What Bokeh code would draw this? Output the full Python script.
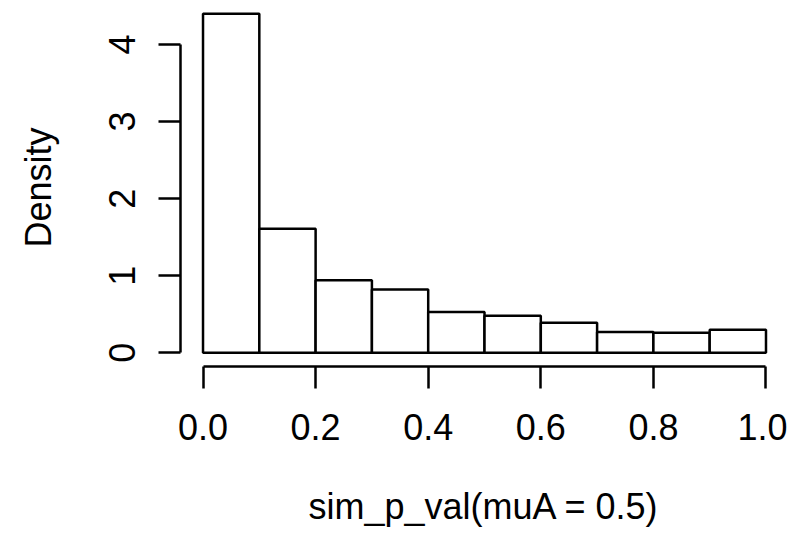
from bokeh.plotting import figure
from bokeh.models import Range1d, FixedTicker, PrintfTickFormatter
from bokeh.embed import file_html
from bokeh.resources import INLINE

breaks = [0.0, 0.1, 0.2, 0.3, 0.4, 0.5, 0.6, 0.7, 0.8, 0.9, 1.0]
density = [4.40, 1.61, 0.94, 0.82, 0.53, 0.48, 0.39, 0.27, 0.26, 0.30]
x_ticks = [0.0, 0.2, 0.4, 0.6, 0.8, 1.0]
y_ticks = [0, 1, 2, 3, 4]
x_label = "sim_p_val(muA = 0.5)"
y_label = "Density"

FONT = "Liberation Sans"

p = figure(width=787, height=535, output_backend="svg", toolbar_location=None,
           x_range=Range1d(-0.04, 1.0382), y_range=Range1d(-0.178, 4.467),
           min_border_left=180, min_border_right=0, min_border_top=8,
           min_border_bottom=169)
p.outline_line_color = None
p.xgrid.visible = False
p.ygrid.visible = False
p.background_fill_color = "white"
p.border_fill_color = "white"

p.quad(left=breaks[:-1], right=breaks[1:], bottom=0, top=density,
       fill_color="white", line_color="black", line_width=2.5)

for ax in (p.xaxis[0], p.yaxis[0]):
    ax.axis_line_width = 2.5
    ax.axis_line_color = "black"
    ax.major_tick_line_width = 2.5
    ax.major_tick_line_color = "black"
    ax.major_tick_in = 0
    ax.major_tick_out = 22
    ax.minor_tick_line_color = None
    ax.major_label_text_font = FONT
    ax.major_label_text_font_size = "36px"
    ax.major_label_text_color = "black"
    ax.axis_label_text_font = FONT
    ax.axis_label_text_font_size = "36px"
    ax.axis_label_text_font_style = "normal"
    ax.axis_label_text_color = "black"

xa = p.xaxis[0]
xa.ticker = FixedTicker(ticks=x_ticks)
xa.formatter = PrintfTickFormatter(format="%.1f")
xa.bounds = (0, 1)
xa.axis_label = x_label
xa.major_label_standoff = 25
xa.axis_label_standoff = 43

ya = p.yaxis[0]
ya.ticker = FixedTicker(ticks=y_ticks)
ya.bounds = (0, 4)
ya.axis_label = y_label
ya.major_label_orientation = "vertical"
ya.major_label_standoff = 23
ya.axis_label_standoff = 48

open("out.html", "w").write(file_html(p, INLINE))
